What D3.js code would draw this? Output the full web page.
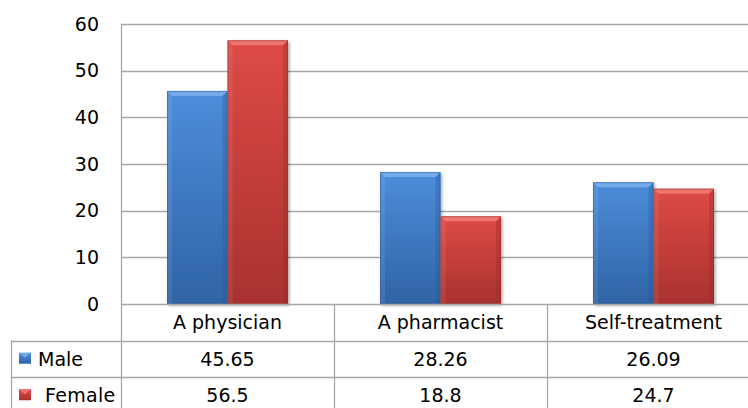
<!DOCTYPE html>
<html>
<head>
<meta charset="utf-8">
<script src="https://cdn.jsdelivr.net/npm/d3@7"></script>
<style>
  html, body { margin: 0; padding: 0; background: #fff; }
  svg { display: block; font-family: "DejaVu Sans", sans-serif; }
</style>
</head>
<body>
<svg id="chart" width="748" height="408"></svg>
<script>
// Who respondents consult, by sex (%)
const categories = ["A physician", "A pharmacist", "Self-treatment"];
const seriesNames = ["Male", "Female"];
const maleValues = [45.65, 28.26, 26.09];
const femaleValues = [56.5, 18.8, 24.7];
const femaleLabels = ["56.5", "18.8", "24.7"];
const maleLabels = ["45.65", "28.26", "26.09"];
const yTicks = [0, 10, 20, 30, 40, 50, 60];

const series = [
  { name: seriesNames[0], values: maleValues, labels: maleLabels,
    top: "#4d8ddb", bottom: "#2f64a6", bevel: "#7db0ec", side: "#2a5a96" },
  { name: seriesNames[1], values: femaleValues, labels: femaleLabels,
    top: "#de4a46", bottom: "#a9322f", bevel: "#f27d79", side: "#952b28" }
];

const W = 748, H = 408;
const plotLeft = 121, plotRight = 760, plotTop = 24, plotBottom = 304;
const tableLeft = 11;
const rowH = 36.5;

const svg = d3.select("#chart");
const defs = svg.append("defs");

series.forEach((s, i) => {
  const g = defs.append("linearGradient").attr("id", "grad" + i)
    .attr("x1", 0).attr("y1", 0).attr("x2", 0).attr("y2", 1);
  g.append("stop").attr("offset", "0%").attr("stop-color", s.top);
  g.append("stop").attr("offset", "100%").attr("stop-color", s.bottom);
});
const shadow = defs.append("filter").attr("id", "shadow")
  .attr("x", "-20%").attr("y", "-10%").attr("width", "140%").attr("height", "130%");
shadow.append("feDropShadow").attr("dx", 1.5).attr("dy", 1.5)
  .attr("stdDeviation", 1.5).attr("flood-color", "#000").attr("flood-opacity", 0.35);

const y = d3.scaleLinear().domain([0, 60]).range([plotBottom, plotTop]);
const x0 = d3.scaleBand().domain(categories).range([plotLeft, plotRight]).padding(0);
const groupW = 121;
const x1 = d3.scaleBand().domain(seriesNames)
  .range([(x0.bandwidth() - groupW) / 2, (x0.bandwidth() + groupW) / 2]).padding(0);

// gridlines
svg.append("g").selectAll("line").data(yTicks.filter(t => t > 0)).join("line")
  .attr("x1", plotLeft).attr("x2", W)
  .attr("y1", d => Math.round(y(d)) + 0.5).attr("y2", d => Math.round(y(d)) + 0.5)
  .attr("stroke", "#a6a6a6").attr("stroke-width", 1.3);

// y axis labels
const yAxis = d3.axisLeft(y).tickValues(yTicks).tickSize(0).tickPadding(22);
const ya = svg.append("g").attr("transform", `translate(${plotLeft},0)`).call(yAxis);
ya.select(".domain").remove();
ya.selectAll("text").attr("font-size", 19).attr("fill", "#000")
  .attr("font-family", "DejaVu Sans, sans-serif");

// bars
const bevel = 5;
series.forEach((s, si) => {
  const g = svg.append("g");
  categories.forEach((c, ci) => {
    const v = s.values[ci];
    const bx = x0(c) + x1(s.name);
    const bw = x1.bandwidth();
    const by = y(v);
    const bh = y(0) - by;
    const bar = g.append("g");
    bar.append("rect").attr("x", bx).attr("y", by).attr("width", bw).attr("height", bh)
      .attr("fill", `url(#grad${si})`).attr("filter", "url(#shadow)");
    // top bevel
    bar.append("path")
      .attr("d", `M${bx},${by}L${bx + bw},${by}L${bx + bw - bevel},${by + bevel}L${bx + bevel},${by + bevel}Z`)
      .attr("fill", s.bevel).attr("opacity", 0.85);
    // left side
    bar.append("path")
      .attr("d", `M${bx},${by}L${bx + bevel},${by + bevel}L${bx + bevel},${by + bh}L${bx},${by + bh}Z`)
      .attr("fill", "#ffffff").attr("opacity", 0.08);
    // right side
    bar.append("path")
      .attr("d", `M${bx + bw},${by}L${bx + bw - bevel},${by + bevel}L${bx + bw - bevel},${by + bh}L${bx + bw},${by + bh}Z`)
      .attr("fill", s.side).attr("opacity", 0.35);
    bar.append("rect").attr("x", bx + 0.5).attr("y", by + 0.5).attr("width", bw - 1).attr("height", bh - 1)
      .attr("fill", "none").attr("stroke", s.side).attr("stroke-opacity", 0.5).attr("stroke-width", 1);
  });
});

// data table
const lineColor = "#a6a6a6";
const tbl = svg.append("g");
const rowsY = [plotBottom, plotBottom + rowH, plotBottom + 2 * rowH, plotBottom + 3 * rowH];
// axis / top of table
tbl.append("line").attr("x1", plotLeft).attr("x2", W)
  .attr("y1", plotBottom + 0.5).attr("y2", plotBottom + 0.5)
  .attr("stroke", lineColor).attr("stroke-width", 1.3);
// row separators
[rowsY[1], rowsY[2]].forEach(ry => {
  tbl.append("line").attr("x1", tableLeft).attr("x2", W)
    .attr("y1", Math.round(ry) + 0.5).attr("y2", Math.round(ry) + 0.5)
    .attr("stroke", lineColor).attr("stroke-width", 1.3);
});
// left plot edge
tbl.append("line").attr("x1", plotLeft + 0.5).attr("x2", plotLeft + 0.5)
  .attr("y1", plotTop).attr("y2", H).attr("stroke", lineColor).attr("stroke-width", 1.3);
// legend column edge
tbl.append("line").attr("x1", tableLeft + 0.5).attr("x2", tableLeft + 0.5)
  .attr("y1", rowsY[1]).attr("y2", H).attr("stroke", lineColor).attr("stroke-width", 1.3);
// category dividers
categories.slice(1).forEach(c => {
  const cx = Math.round(x0(c)) + 0.5;
  tbl.append("line").attr("x1", cx).attr("x2", cx).attr("y1", plotBottom).attr("y2", H)
    .attr("stroke", lineColor).attr("stroke-width", 1.3);
});

// category header
tbl.selectAll("text.cat").data(categories).join("text").attr("class", "cat")
  .attr("x", d => x0(d) + x0.bandwidth() / 2)
  .attr("y", (rowsY[0] + rowsY[1]) / 2)
  .attr("text-anchor", "middle").attr("dominant-baseline", "central")
  .attr("font-size", 19).attr("fill", "#000").text(d => d);

// series rows
series.forEach((s, si) => {
  const cy = (rowsY[si + 1] + rowsY[si + 2]) / 2;
  tbl.selectAll("text.v" + si).data(categories).join("text").attr("class", "v" + si)
    .attr("x", d => x0(d) + x0.bandwidth() / 2).attr("y", cy)
    .attr("text-anchor", "middle").attr("dominant-baseline", "central")
    .attr("font-size", 19).attr("fill", "#000")
    .text((d, i) => s.labels[i]);
  // legend key
  const kx = 19, ky = cy - 6, ks = 12;
  tbl.append("rect").attr("x", kx).attr("y", ky).attr("width", ks).attr("height", 11)
    .attr("fill", `url(#grad${si})`);
  tbl.append("path")
    .attr("d", `M${kx},${ky}L${kx + ks},${ky}L${kx + ks / 2},${ky + 5}Z`)
    .attr("fill", s.bevel).attr("opacity", 0.8);
  tbl.append("text").attr("x", si === 0 ? 38 : 45).attr("y", cy)
    .attr("dominant-baseline", "central").attr("font-size", 19).attr("fill", "#000")
    .attr("letter-spacing", si === 1 ? 0.3 : 0)
    .text(s.name);
});
</script>
</body>
</html>
